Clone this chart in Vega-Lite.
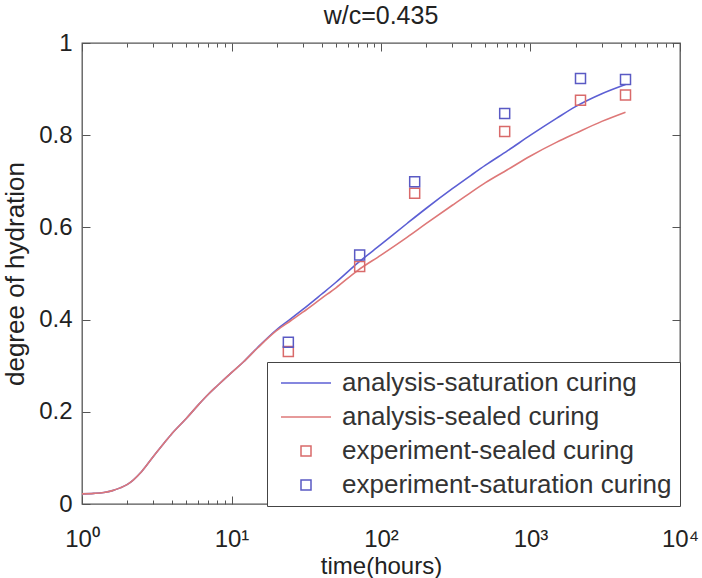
{
  "$schema": "https://vega.github.io/schema/vega-lite/v6.json",
  "width": 598,
  "height": 461,
  "autosize": {"type": "none"},
  "padding": {"left": 82, "top": 43, "right": 22, "bottom": 74},
  "background": "white",
  "title": {"text": "w/c=0.435", "font": "Liberation Sans", "fontSize": 25, "fontWeight": "normal", "color": "#222", "offset": 2},
  "config": {
    "view": {"stroke": "#555", "strokeWidth": 1.3},
    "legend": {"labelFont": "Liberation Sans", "labelFontSize": 26, "labelColor": "#333", "labelLimit": 500}
  },
  "datasets": {
    "curves": [
      {"series": "analysis-saturation curing", "t": 1, "h": 0.022},
      {"series": "analysis-saturation curing", "t": 1.2, "h": 0.023},
      {"series": "analysis-saturation curing", "t": 1.4, "h": 0.025},
      {"series": "analysis-saturation curing", "t": 1.6, "h": 0.029},
      {"series": "analysis-saturation curing", "t": 1.8, "h": 0.035},
      {"series": "analysis-saturation curing", "t": 2, "h": 0.042},
      {"series": "analysis-saturation curing", "t": 2.2, "h": 0.052},
      {"series": "analysis-saturation curing", "t": 2.5, "h": 0.07},
      {"series": "analysis-saturation curing", "t": 3, "h": 0.103},
      {"series": "analysis-saturation curing", "t": 3.5, "h": 0.13},
      {"series": "analysis-saturation curing", "t": 4, "h": 0.153},
      {"series": "analysis-saturation curing", "t": 5, "h": 0.186},
      {"series": "analysis-saturation curing", "t": 6, "h": 0.215},
      {"series": "analysis-saturation curing", "t": 7, "h": 0.238},
      {"series": "analysis-saturation curing", "t": 8, "h": 0.256},
      {"series": "analysis-saturation curing", "t": 10, "h": 0.285},
      {"series": "analysis-saturation curing", "t": 12, "h": 0.308},
      {"series": "analysis-saturation curing", "t": 15, "h": 0.34},
      {"series": "analysis-saturation curing", "t": 20, "h": 0.378},
      {"series": "analysis-saturation curing", "t": 25, "h": 0.402},
      {"series": "analysis-saturation curing", "t": 30, "h": 0.422},
      {"series": "analysis-saturation curing", "t": 40, "h": 0.455},
      {"series": "analysis-saturation curing", "t": 50, "h": 0.481},
      {"series": "analysis-saturation curing", "t": 70, "h": 0.523},
      {"series": "analysis-saturation curing", "t": 100, "h": 0.563},
      {"series": "analysis-saturation curing", "t": 150, "h": 0.609},
      {"series": "analysis-saturation curing", "t": 200, "h": 0.641},
      {"series": "analysis-saturation curing", "t": 300, "h": 0.684},
      {"series": "analysis-saturation curing", "t": 400, "h": 0.713},
      {"series": "analysis-saturation curing", "t": 500, "h": 0.735},
      {"series": "analysis-saturation curing", "t": 700, "h": 0.766},
      {"series": "analysis-saturation curing", "t": 1000, "h": 0.8},
      {"series": "analysis-saturation curing", "t": 1500, "h": 0.837},
      {"series": "analysis-saturation curing", "t": 2000, "h": 0.862},
      {"series": "analysis-saturation curing", "t": 3000, "h": 0.89},
      {"series": "analysis-saturation curing", "t": 4320, "h": 0.91},
      {"series": "analysis-sealed curing", "t": 1, "h": 0.022},
      {"series": "analysis-sealed curing", "t": 1.2, "h": 0.023},
      {"series": "analysis-sealed curing", "t": 1.4, "h": 0.025},
      {"series": "analysis-sealed curing", "t": 1.6, "h": 0.029},
      {"series": "analysis-sealed curing", "t": 1.8, "h": 0.035},
      {"series": "analysis-sealed curing", "t": 2, "h": 0.042},
      {"series": "analysis-sealed curing", "t": 2.2, "h": 0.052},
      {"series": "analysis-sealed curing", "t": 2.5, "h": 0.07},
      {"series": "analysis-sealed curing", "t": 3, "h": 0.103},
      {"series": "analysis-sealed curing", "t": 3.5, "h": 0.13},
      {"series": "analysis-sealed curing", "t": 4, "h": 0.153},
      {"series": "analysis-sealed curing", "t": 5, "h": 0.186},
      {"series": "analysis-sealed curing", "t": 6, "h": 0.215},
      {"series": "analysis-sealed curing", "t": 7, "h": 0.238},
      {"series": "analysis-sealed curing", "t": 8, "h": 0.256},
      {"series": "analysis-sealed curing", "t": 10, "h": 0.285},
      {"series": "analysis-sealed curing", "t": 12, "h": 0.308},
      {"series": "analysis-sealed curing", "t": 15, "h": 0.339},
      {"series": "analysis-sealed curing", "t": 20, "h": 0.376},
      {"series": "analysis-sealed curing", "t": 25, "h": 0.398},
      {"series": "analysis-sealed curing", "t": 30, "h": 0.416},
      {"series": "analysis-sealed curing", "t": 40, "h": 0.446},
      {"series": "analysis-sealed curing", "t": 50, "h": 0.469},
      {"series": "analysis-sealed curing", "t": 70, "h": 0.507},
      {"series": "analysis-sealed curing", "t": 100, "h": 0.54},
      {"series": "analysis-sealed curing", "t": 150, "h": 0.579},
      {"series": "analysis-sealed curing", "t": 200, "h": 0.608},
      {"series": "analysis-sealed curing", "t": 300, "h": 0.648},
      {"series": "analysis-sealed curing", "t": 400, "h": 0.676},
      {"series": "analysis-sealed curing", "t": 500, "h": 0.697},
      {"series": "analysis-sealed curing", "t": 700, "h": 0.725},
      {"series": "analysis-sealed curing", "t": 1000, "h": 0.755},
      {"series": "analysis-sealed curing", "t": 1500, "h": 0.785},
      {"series": "analysis-sealed curing", "t": 2000, "h": 0.804},
      {"series": "analysis-sealed curing", "t": 3000, "h": 0.83},
      {"series": "analysis-sealed curing", "t": 4320, "h": 0.85}
    ],
    "experiments": [
      {"series": "experiment-sealed curing", "t": 24, "h": 0.331},
      {"series": "experiment-sealed curing", "t": 72, "h": 0.515},
      {"series": "experiment-sealed curing", "t": 168, "h": 0.674},
      {"series": "experiment-sealed curing", "t": 672, "h": 0.808},
      {"series": "experiment-sealed curing", "t": 2160, "h": 0.876},
      {"series": "experiment-sealed curing", "t": 4320, "h": 0.887},
      {"series": "experiment-saturation curing", "t": 24, "h": 0.351},
      {"series": "experiment-saturation curing", "t": 72, "h": 0.54},
      {"series": "experiment-saturation curing", "t": 168, "h": 0.699},
      {"series": "experiment-saturation curing", "t": 672, "h": 0.847},
      {"series": "experiment-saturation curing", "t": 2160, "h": 0.923},
      {"series": "experiment-saturation curing", "t": 4320, "h": 0.921}
    ]
  },
  "resolve": {"axis": {"x": "independent", "y": "independent"}},
  "layer": [
    {
      "data": {"name": "curves"},
      "mark": {"type": "line", "strokeWidth": 1.6, "clip": true, "interpolate": "monotone"},
      "encoding": {
        "x": {
          "field": "t", "type": "quantitative",
          "scale": {"type": "log", "domain": [1, 10000], "nice": false},
          "axis": {
            "orient": "bottom",
            "values": [1,2,3,4,5,6,7,8,9,10,20,30,40,50,60,70,80,90,100,200,300,400,500,600,700,800,900,1000,2000,3000,4000,5000,6000,7000,8000,9000,10000],
            "labelExpr": "datum.value==1?'10⁰':datum.value==10?'10¹':datum.value==100?'10²':datum.value==1000?'10³':datum.value==10000?'10⁴':''",
            "labelOverlap": false,
            "labelFlush": false,
            "labelFont": "Liberation Sans", "labelFontSize": 24, "labelColor": "#222",
            "labelPadding": 31,
            "tickSize": {"condition": {"test": "datum.value==1||datum.value==10||datum.value==100||datum.value==1000||datum.value==10000", "value": -8}, "value": -4},
            "tickColor": "#555", "tickWidth": 1,
            "domain": false, "grid": false,
            "title": "time(hours)",
            "titleFont": "Liberation Sans", "titleFontSize": 24, "titleFontWeight": "normal", "titleColor": "#222",
            "titlePadding": -1
          }
        },
        "y": {
          "field": "h", "type": "quantitative",
          "scale": {"domain": [0, 1], "nice": false, "zero": false},
          "axis": {
            "orient": "left",
            "values": [0, 0.2, 0.4, 0.6, 0.8, 1],
            "labelExpr": "datum.value==0?'0':datum.value==1?'1':format(datum.value,'.1f')",
            "labelFont": "Liberation Sans", "labelFontSize": 24, "labelColor": "#222",
            "tickSize": -8, "tickColor": "#555", "labelPadding": 18,
            "domain": false, "grid": false,
            "title": "degree of hydration",
            "titleFont": "Liberation Sans", "titleFontSize": 26, "titleFontWeight": "normal", "titleColor": "#222",
            "titlePadding": 10
          }
        },
        "color": {
          "field": "series", "type": "nominal",
          "scale": {
            "domain": ["analysis-saturation curing", "analysis-sealed curing", "experiment-sealed curing", "experiment-saturation curing"],
            "range": ["#5c5fd4", "#de7878", "#d96a6a", "#5a5ac4"]
          },
          "legend": {
            "orient": "none", "legendX": 185, "legendY": 319,
            "title": null,
            "strokeColor": "#444", "fillColor": "white", "padding": 8,
            "symbolSize": 100, "symbolOffset": 18, "labelOffset": 23,
            "rowPadding": 8, "symbolStrokeWidth": 1.5,
            "encode": {
              "symbols": {
                "update": {
                  "shape": {"signal": "indexof(datum.label,'analysis')==0 ? 'M-5,0H5' : 'square'"},
                  "fill": {"value": "transparent"},
                  "stroke": {"scale": "color", "field": "value"},
                  "strokeWidth": {"value": 1.5}
                }
              }
            }
          }
        }
      }
    },
    {
      "data": {"name": "experiments"},
      "mark": {"type": "point", "shape": "square", "filled": false, "size": 100, "strokeWidth": 1.5, "opacity": 1},
      "encoding": {
        "x": {
          "field": "t", "type": "quantitative",
          "scale": {"type": "log", "domain": [1, 10000], "nice": false},
          "axis": {
            "orient": "top",
            "values": [1,2,3,4,5,6,7,8,9,10,20,30,40,50,60,70,80,90,100,200,300,400,500,600,700,800,900,1000,2000,3000,4000,5000,6000,7000,8000,9000,10000],
            "labels": false,
            "tickSize": {"condition": {"test": "datum.value==1||datum.value==10||datum.value==100||datum.value==1000||datum.value==10000", "value": -8}, "value": -4},
            "tickColor": "#555",
            "domain": false, "grid": false, "title": null
          }
        },
        "y": {
          "field": "h", "type": "quantitative",
          "scale": {"domain": [0, 1], "nice": false, "zero": false},
          "axis": {
            "orient": "right",
            "values": [0, 0.2, 0.4, 0.6, 0.8, 1],
            "labels": false, "tickSize": -8, "tickColor": "#555",
            "domain": false, "grid": false, "title": null
          }
        },
        "color": {
          "field": "series", "type": "nominal",
          "scale": {
            "domain": ["analysis-saturation curing", "analysis-sealed curing", "experiment-sealed curing", "experiment-saturation curing"],
            "range": ["#5c5fd4", "#de7878", "#d96a6a", "#5a5ac4"]
          },
          "legend": {
            "orient": "none", "legendX": 185, "legendY": 319,
            "title": null,
            "strokeColor": "#444", "fillColor": "white", "padding": 8,
            "symbolSize": 100, "symbolOffset": 18, "labelOffset": 23,
            "rowPadding": 8, "symbolStrokeWidth": 1.5,
            "encode": {
              "symbols": {
                "update": {
                  "shape": {"signal": "indexof(datum.label,'analysis')==0 ? 'M-5,0H5' : 'square'"},
                  "fill": {"value": "transparent"},
                  "stroke": {"scale": "color", "field": "value"},
                  "strokeWidth": {"value": 1.5}
                }
              }
            }
          }
        }
      }
    }
  ]
}
